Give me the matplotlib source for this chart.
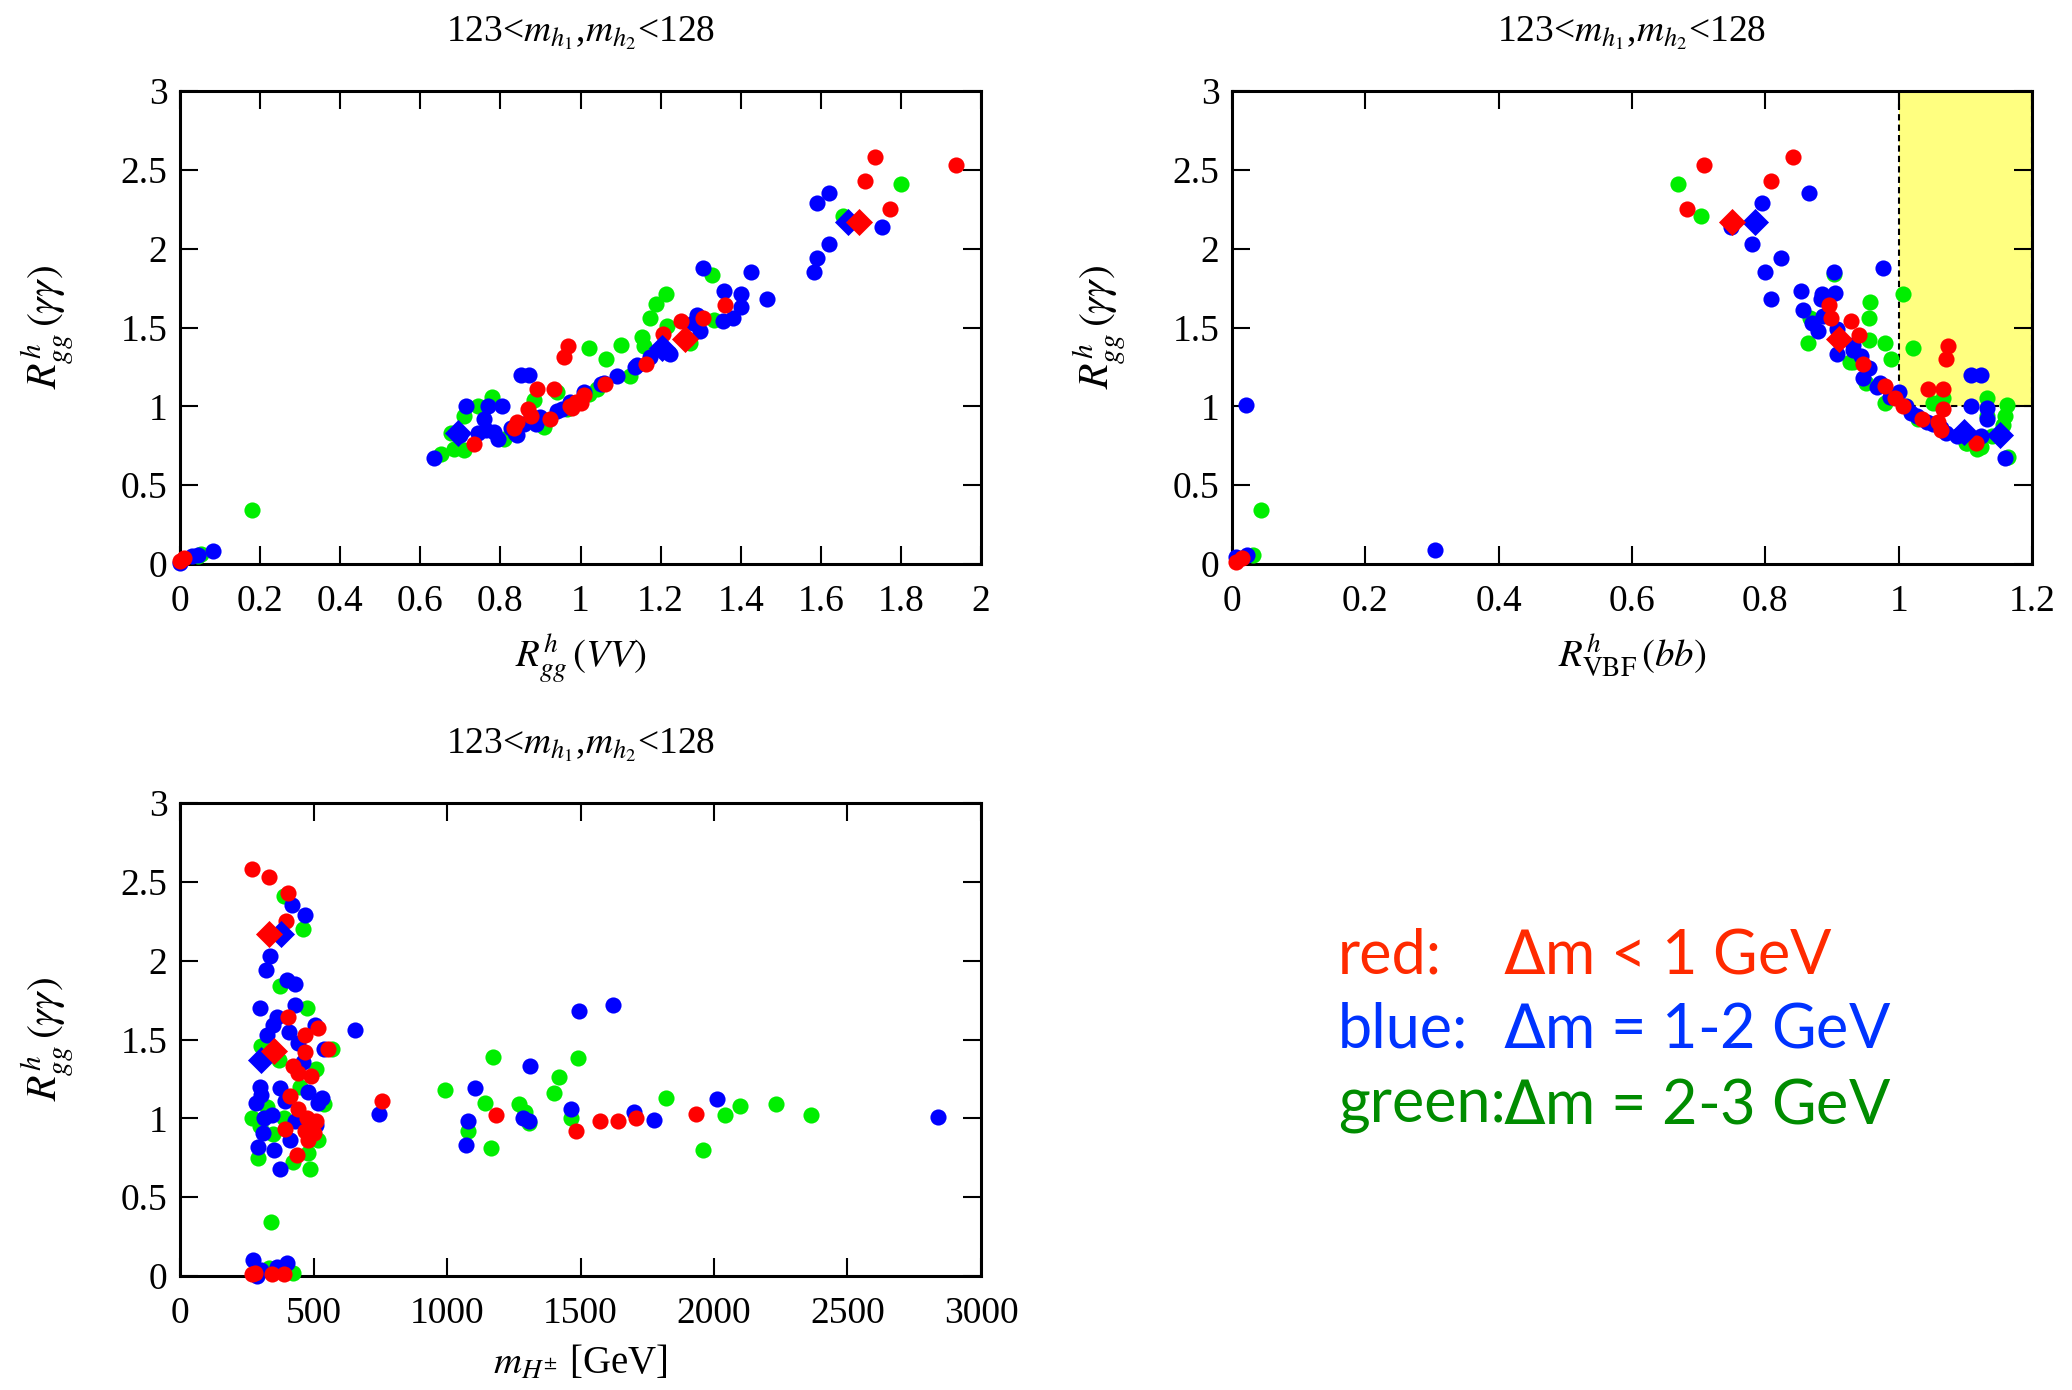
import matplotlib
matplotlib.use("Agg")
import matplotlib.pyplot as plt
from matplotlib.patches import Rectangle

plt.rcParams['font.family'] = ['Liberation Serif', 'DejaVu Serif']
plt.rcParams['mathtext.fontset'] = 'stix'

# colours of the three mass-splitting classes
RED, BLUE, GREEN = '#ff0000', '#0000ff', '#00ee00'

# ---- panel 1: R_gg(VV) vs R_gg(gamma gamma)
p1_red_x = [1.735, 1.937, 1.710, 1.773, 1.360, 1.307, 1.252, 1.207, 1.265, 1.163, 0.970, 0.960, 1.061, 0.892,
            0.935, 1.008, 0.975, 0.99, 1.00, 0.98, 0.925, 0.876, 0.842, 0.834, 0.87, 0.735, 0.01, 0.0]
p1_red_y = [2.58, 2.53, 2.43, 2.25, 1.64, 1.56, 1.54, 1.46, 1.43, 1.27, 1.38, 1.31, 1.14, 1.11,
            1.11, 1.07, 1.00, 1.03, 1.02, 0.99, 0.92, 0.94, 0.90, 0.86, 0.98, 0.76, 0.04, 0.02]
p1_blue_x = [1.62, 1.59, 1.62, 1.59, 1.584, 1.753, 1.307, 1.425, 1.358, 1.401, 1.466, 1.40, 1.381, 1.357, 1.29,
             1.298, 1.281, 1.224, 1.20, 1.174, 1.141, 1.091, 1.05, 1.008, 0.975, 0.942, 0.90, 0.859, 0.826,
             0.851, 0.871, 0.715, 0.768, 0.804, 0.76, 0.765, 0.784, 0.743, 0.793, 0.837, 0.889, 0.954, 1.059,
             1.137, 0.635, 0.842, 0.70, 0.083, 0.046, 0.03, 0.0]
p1_blue_y = [2.35, 2.29, 2.03, 1.94, 1.85, 2.14, 1.88, 1.85, 1.73, 1.71, 1.68, 1.63, 1.56, 1.54, 1.58,
             1.48, 1.53, 1.33, 1.37, 1.31, 1.26, 1.19, 1.14, 1.09, 1.03, 0.97, 0.93, 0.89, 0.86,
             1.20, 1.20, 1.00, 1.00, 1.00, 0.92, 0.85, 0.84, 0.83, 0.79, 0.83, 0.89, 0.98, 1.15,
             1.25, 0.67, 0.82, 0.82, 0.085, 0.06, 0.05, 0.005]
p1_green_x = [1.80, 1.655, 1.328, 1.214, 1.188, 1.174, 1.154, 1.158, 1.10, 1.02, 1.063, 1.216, 1.274, 1.333,
              1.124, 1.04, 0.942, 0.884, 0.779, 0.743, 0.71, 0.677, 0.685, 0.652, 0.71, 0.81, 0.909, 0.967,
              1.02, 0.179, 0.052, 0.046]
p1_green_y = [2.41, 2.21, 1.83, 1.71, 1.65, 1.56, 1.44, 1.38, 1.39, 1.37, 1.30, 1.51, 1.40, 1.55,
              1.19, 1.11, 1.09, 1.04, 1.06, 1.00, 0.94, 0.83, 0.73, 0.70, 0.72, 0.79, 0.87, 0.98,
              1.08, 0.34, 0.064, 0.05]
p1_red_dia_x = [1.696, 1.261]
p1_red_dia_y = [2.17, 1.43]
p1_blue_dia_x = [1.668, 1.203, 0.693]
p1_blue_dia_y = [2.17, 1.37, 0.83]

# ---- panel 2: R_VBF(bb) vs R_gg(gamma gamma)
p2_red_x = [0.708, 0.842, 0.808, 0.682, 0.895, 0.899, 0.929, 0.941, 0.947, 1.074, 1.071, 1.044, 1.067, 0.979,
            0.995, 1.007, 1.067, 1.035, 1.059, 1.063, 1.116, 0.006, 0.015]
p2_red_y = [2.53, 2.58, 2.43, 2.25, 1.64, 1.56, 1.54, 1.45, 1.27, 1.38, 1.30, 1.11, 1.11, 1.13,
            1.05, 1.00, 0.98, 0.92, 0.90, 0.85, 0.77, 0.015, 0.036]
p2_blue_x = [0.021, 0.304, 0.866, 0.795, 0.749, 0.780, 0.824, 0.799, 0.977, 0.903, 0.809, 0.853, 0.885, 0.904,
             0.857, 0.870, 0.879, 0.883, 0.887, 0.908, 0.907, 0.931, 0.932, 0.944, 0.956, 0.947, 0.967, 0.972,
             0.987, 1.0, 1.011, 1.019, 1.027, 1.043, 1.051, 1.063, 1.071, 1.087, 1.108, 1.124, 1.108, 1.132,
             1.133, 1.160, 1.124, 0.006, 0.022]
p2_blue_y = [1.01, 0.09, 2.35, 2.29, 2.14, 2.03, 1.94, 1.85, 1.88, 1.85, 1.68, 1.73, 1.71, 1.72,
             1.61, 1.53, 1.48, 1.68, 1.57, 1.49, 1.33, 1.36, 1.39, 1.32, 1.24, 1.18, 1.12, 1.15,
             1.06, 1.09, 1.00, 0.96, 0.94, 0.90, 0.89, 0.86, 0.83, 0.81, 1.20, 1.20, 1.00, 0.99,
             0.92, 0.67, 0.81, 0.047, 0.057]
p2_green_x = [0.669, 0.704, 1.007, 0.957, 0.955, 0.864, 0.979, 1.021, 0.989, 0.955, 0.867, 0.932, 0.927, 0.951,
              0.979, 1.029, 1.051, 1.067, 1.101, 1.103, 1.118, 1.124, 1.14, 1.132, 1.133, 1.162, 1.160, 1.156,
              1.164, 0.043, 0.031, 0.903]
p2_green_y = [2.41, 2.21, 1.71, 1.66, 1.56, 1.40, 1.40, 1.37, 1.30, 1.42, 1.56, 1.28, 1.28, 1.15,
              1.02, 0.92, 1.02, 1.05, 0.77, 0.77, 0.73, 0.74, 0.81, 0.94, 1.05, 1.01, 0.94, 0.88,
              0.68, 0.34, 0.057, 1.84]
p2_red_dia_x = [0.750, 0.911]
p2_red_dia_y = [2.17, 1.43]
p2_blue_dia_x = [0.784, 1.098, 1.152]
p2_blue_dia_y = [2.17, 0.84, 0.82]

# ---- panel 3: m_H+- vs R_gg(gamma gamma)
p3_red_x = [269, 333, 406, 396, 404, 467, 516, 553, 467, 424, 441, 490, 412, 441, 474, 510, 392, 467, 500, 480,
            437, 755, 1184, 1484, 1573, 1641, 1706, 1932, 269, 282, 345, 388]
p3_red_y = [2.58, 2.53, 2.43, 2.25, 1.64, 1.53, 1.57, 1.44, 1.42, 1.33, 1.29, 1.27, 1.14, 1.06, 1.00, 0.98,
            0.93, 0.92, 0.91, 0.86, 0.77, 1.11, 1.02, 0.92, 0.98, 0.98, 1.00, 1.03, 0.01, 0.02, 0.01, 0.01]
p3_blue_x = [418, 467, 337, 322, 400, 431, 300, 431, 363, 347, 324, 408, 506, 657, 441, 539, 461, 298, 304, 286,
             373, 480, 533, 516, 392, 314, 343, 431, 510, 310, 294, 353, 412, 373, 745, 1104, 1080, 1071, 1310,
             1286, 1306, 1463, 1496, 1622, 1700, 1775, 2012, 2840, 275, 304, 363, 402, 290]
p3_blue_y = [2.35, 2.29, 2.03, 1.94, 1.88, 1.85, 1.70, 1.72, 1.64, 1.59, 1.53, 1.55, 1.59, 1.56, 1.48, 1.44,
             1.36, 1.20, 1.15, 1.10, 1.19, 1.17, 1.13, 1.10, 1.11, 1.00, 1.02, 0.98, 0.96, 0.91, 0.82, 0.80,
             0.86, 0.68, 1.03, 1.19, 0.98, 0.83, 1.33, 1.00, 0.98, 1.06, 1.68, 1.72, 1.04, 0.99, 1.12, 1.01,
             0.10, 0.04, 0.06, 0.08, 0.0]
p3_green_x = [388, 461, 373, 475, 569, 304, 369, 510, 539, 269, 324, 516, 294, 422, 480, 486, 339, 992, 1171,
              1143, 1080, 1163, 1271, 1294, 1306, 1402, 1420, 1492, 1463, 1822, 2040, 2098, 2233, 2365, 1959,
              333, 422, 300, 450, 390, 350]
p3_green_y = [2.41, 2.20, 1.84, 1.70, 1.44, 1.46, 1.37, 1.31, 1.09, 1.00, 1.07, 0.86, 0.75, 0.72, 0.78, 0.68,
              0.34, 1.18, 1.39, 1.10, 0.92, 0.81, 1.09, 1.04, 0.97, 1.16, 1.26, 1.38, 1.00, 1.13, 1.02, 1.08,
              1.09, 1.02, 0.80, 0.05, 0.02, 0.95, 1.20, 1.00, 0.90]
p3_red_dia_x = [333, 353]
p3_red_dia_y = [2.17, 1.43]
p3_blue_dia_x = [378, 304]
p3_blue_dia_y = [2.17, 1.37]

title = r'123<$m_{h_1}$,$m_{h_2}$<128'
ylab = r'$R^{h}_{gg}\,(\gamma\gamma)$'

legend_rows = [('red:', r'$\Delta$m < 1 GeV', '#ff2a00'),
               ('blue:', r'$\Delta$m = 1-2 GeV', '#0033ff'),
               ('green:', r'$\Delta$m = 2-3 GeV', '#008c00')]

W, H = 2072, 1390
fig = plt.figure(figsize=(W / 100, H / 100), dpi=100)


def panel(rect, d, xlim, xticks, xlab):
    left, top, right, bottom = rect
    ax = fig.add_axes([left / W, 1 - bottom / H, (right - left) / W, (bottom - top) / H])
    kw = dict(s=135, linewidths=0, clip_on=False)
    ax.scatter(d[4], d[5], c=GREEN, zorder=3, **kw)
    ax.scatter(d[2], d[3], c=BLUE, zorder=4, **kw)
    ax.scatter(d[0], d[1], c=RED, zorder=5, **kw)
    kd = dict(s=190, marker='D', linewidths=0, clip_on=False)
    ax.scatter(d[8], d[9], c=BLUE, zorder=6, **kd)
    ax.scatter(d[6], d[7], c=RED, zorder=7, **kd)
    ax.set_xlim(*xlim)
    ax.set_ylim(0, 3)
    ax.set_xticks(xticks)
    ax.set_yticks([0, 0.5, 1, 1.5, 2, 2.5, 3])
    ax.xaxis.set_major_formatter(plt.FuncFormatter(lambda v, p: ('%g' % v)))
    ax.yaxis.set_major_formatter(plt.FuncFormatter(lambda v, p: ('%g' % v)))
    ax.tick_params(direction='in', length=13, width=1.5, top=True, right=True, labelsize=27)
    ax.tick_params(axis='x', pad=15)
    ax.tick_params(axis='y', pad=9)
    for sp in ax.spines.values():
        sp.set_linewidth(2.2)
    ax.set_xlabel(xlab, fontsize=28)
    ax.xaxis.set_label_coords(0.5, -0.145)
    ax.set_ylabel(ylab, fontsize=30)
    ax.yaxis.set_label_coords(-0.13, 0.5)
    ax.set_title(title, fontsize=27, pad=36)
    return ax


ax1 = panel((180, 91, 981, 564),
            [p1_red_x, p1_red_y, p1_blue_x, p1_blue_y, p1_green_x, p1_green_y,
             p1_red_dia_x, p1_red_dia_y, p1_blue_dia_x, p1_blue_dia_y],
            (0, 2), [0, 0.2, 0.4, 0.6, 0.8, 1, 1.2, 1.4, 1.6, 1.8, 2], r'$R^{h}_{gg}\,(VV)$')

ax2 = panel((1232, 91, 2032, 564),
            [p2_red_x, p2_red_y, p2_blue_x, p2_blue_y, p2_green_x, p2_green_y,
             p2_red_dia_x, p2_red_dia_y, p2_blue_dia_x, p2_blue_dia_y],
            (0, 1.2), [0, 0.2, 0.4, 0.6, 0.8, 1, 1.2], r'$R^{h}_{\mathrm{VBF}}\,(bb)$')
ax2.add_patch(Rectangle((1.0, 1.0), 0.2, 2.0, facecolor='#ffff80', edgecolor='black',
                        linestyle=(0, (3, 2)), linewidth=1.5, zorder=1))

ax3 = panel((180, 803, 981, 1276),
            [p3_red_x, p3_red_y, p3_blue_x, p3_blue_y, p3_green_x, p3_green_y,
             p3_red_dia_x, p3_red_dia_y, p3_blue_dia_x, p3_blue_dia_y],
            (0, 3000), [0, 500, 1000, 1500, 2000, 2500, 3000], r'$m_{H^{\pm}}$ [GeV]')

# colour legend written as text
for i, (name, val, col) in enumerate(legend_rows):
    yb = 1 - (973 + i * 75) / H
    fig.text(1338 / W, yb, name, color=col, fontsize=44, family=['Lato', 'DejaVu Sans'], va='baseline')
    fig.text(1503 / W, yb, val, color=col, fontsize=44, family=['Lato', 'DejaVu Sans'], va='baseline',
             math_fontfamily='dejavusans')

fig.savefig('out.png', dpi=100)
